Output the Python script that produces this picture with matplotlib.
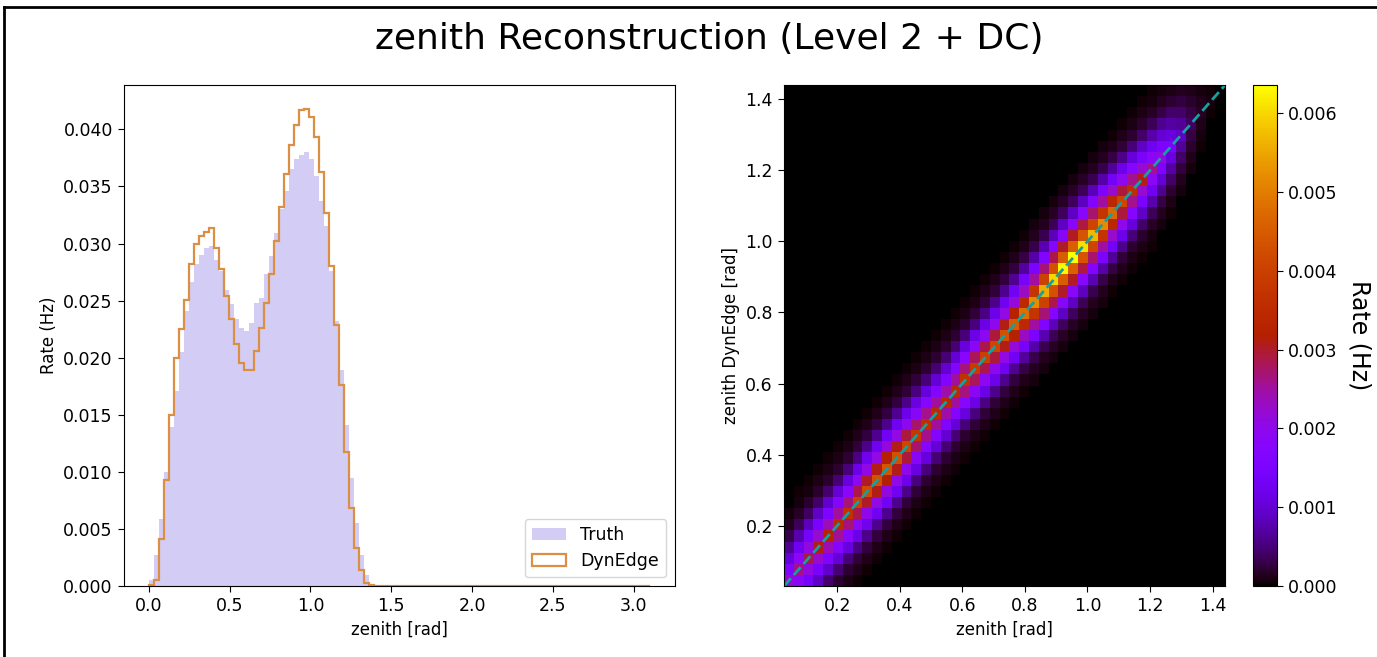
import numpy as np
import matplotlib
matplotlib.use("Agg")
import matplotlib.pyplot as plt
from matplotlib.lines import Line2D

plt.rcParams['font.size'] = 12
plt.rcParams['xtick.labelsize'] = 12.5
plt.rcParams['ytick.labelsize'] = 12.5
plt.rcParams['xtick.major.size'] = 4.5
plt.rcParams['ytick.major.size'] = 4.5

# --- 1D histograms (rate per bin) ---
pred_edges = np.linspace(0.0, 3.1, 101)
pred_rate = [0.0001, 0.0005, 0.0041, 0.0093, 0.0150, 0.0200, 0.0225, 0.0251, 0.0282, 0.0300,
             0.0307, 0.0310, 0.0314, 0.0296, 0.0278, 0.0254, 0.0234, 0.0212, 0.0195, 0.0189,
             0.0189, 0.0206, 0.0226, 0.0248, 0.0273, 0.0302, 0.0332, 0.0361, 0.0386, 0.0404,
             0.0417, 0.0418, 0.0411, 0.0393, 0.0363, 0.0327, 0.0280, 0.0229, 0.0176, 0.0117,
             0.0068, 0.0033, 0.0014, 0.0003, 0.0001] + [0.0] * 55

truth_edges = np.linspace(0.0, 1.395, 46)
truth_rate = [0.0005, 0.0027, 0.0059, 0.0100, 0.0139, 0.0171, 0.0205, 0.0241, 0.0266, 0.0282,
              0.0290, 0.0296, 0.0298, 0.0286, 0.0276, 0.0259, 0.0247, 0.0234, 0.0226, 0.0223,
              0.0230, 0.0248, 0.0252, 0.0273, 0.0289, 0.0309, 0.0330, 0.0346, 0.0365, 0.0374,
              0.0378, 0.0380, 0.0374, 0.0359, 0.0337, 0.0315, 0.0276, 0.0232, 0.0189, 0.0141,
              0.0095, 0.0055, 0.0027, 0.0010, 0.0002]

# --- 2D histogram: peak rate on the diagonal per column, and fall-off across the band ---
h2_edges = np.linspace(0.03, 1.44, 46)
ridge_rate = [0.0022, 0.0026, 0.0029, 0.0031, 0.0033, 0.0035, 0.0037, 0.0040, 0.0042, 0.0043,
              0.0044, 0.0043, 0.0041, 0.0038, 0.0036, 0.0035, 0.0034, 0.0035, 0.0037, 0.0039,
              0.0040, 0.0041, 0.0043, 0.0045, 0.0048, 0.0052, 0.0056, 0.0060, 0.0063, 0.00636,
              0.0061, 0.0057, 0.0052, 0.0047, 0.0041, 0.0036, 0.0031, 0.0026, 0.0021, 0.0015,
              0.0009, 0.0004, 0.00015, 0.00005, 0.0]
band_offset = [-7, -6, -5, -4, -3, -2, -1, 0, 1, 2, 3, 4, 5, 6, 7]
band_frac = [0.01, 0.025, 0.06, 0.14, 0.29, 0.48, 0.72, 1.0,
             0.72, 0.48, 0.29, 0.14, 0.06, 0.025, 0.01]

n2 = len(ridge_rate)
H = np.zeros((n2, n2))
for i, peak in enumerate(ridge_rate):
    for off, frac in zip(band_offset, band_frac):
        j = i + off
        if 0 <= j < n2:
            H[j, i] = peak * frac

fig = plt.figure(figsize=(13.77, 6.57), dpi=100)

# left: rate histograms
ax1 = fig.add_axes([0.090, 0.108, 0.400, 0.7626])
pc = 0.5 * (pred_edges[:-1] + pred_edges[1:])
tc = 0.5 * (truth_edges[:-1] + truth_edges[1:])
ax1.hist(tc, bins=truth_edges, weights=truth_rate, histtype='stepfilled',
         color='#d3cdf5', label='Truth')
ax1.hist(pc, bins=pred_edges, weights=pred_rate, histtype='step',
         color='#dc8e44', linewidth=1.6, label='DynEdge')
ax1.set_xlabel('zenith [rad]')
ax1.set_ylabel('Rate (Hz)')
ax1.legend(loc='lower right', fontsize=12.5)

# right: truth vs reconstruction
ax2 = fig.add_axes([0.5694, 0.108, 0.3203, 0.7626])
mesh = ax2.pcolormesh(h2_edges, h2_edges, H, cmap='gnuplot', vmin=0, vmax=max(ridge_rate))
ax2.plot([h2_edges[0], h2_edges[-1]], [h2_edges[0], h2_edges[-1]], '--',
         color='#17a0a0', linewidth=2)
ax2.set_xlim(h2_edges[0], h2_edges[-1])
ax2.set_ylim(h2_edges[0], h2_edges[-1])
ax2.set_xlabel('zenith [rad]')
ax2.set_ylabel('zenith DynEdge [rad]')

cax = fig.add_axes([0.910, 0.108, 0.0174, 0.7626])
cb = fig.colorbar(mesh, cax=cax)
cb.set_label('Rate (Hz)', rotation=270, labelpad=24, fontsize=17)

fig.suptitle('zenith Reconstruction (Level 2 + DC)', fontsize=26, x=0.515, y=0.967)

# screenshot frame on the top and left edges
fig.add_artist(Line2D([0.003, 0.003], [0.0, 0.99], transform=fig.transFigure,
                      color='black', linewidth=2))
fig.add_artist(Line2D([0.003, 1.0], [0.99, 0.99], transform=fig.transFigure,
                      color='black', linewidth=2))

fig.savefig('out.png', dpi=100)
